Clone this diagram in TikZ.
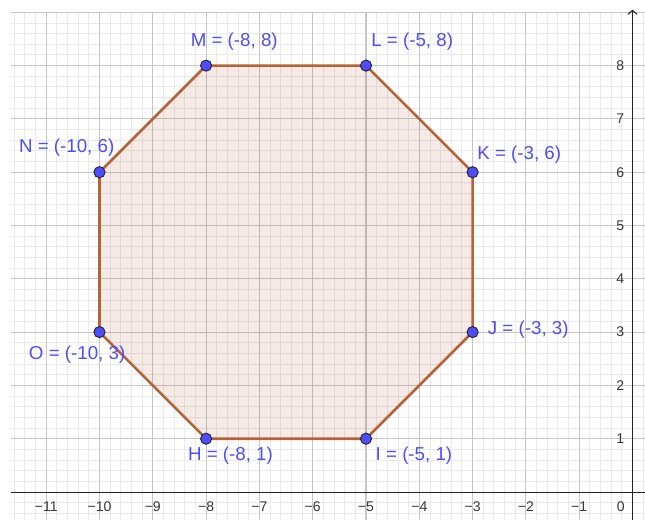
\documentclass[tikz,border=0pt]{standalone}
\usepackage{fontspec}
\setmainfont{Liberation Sans}
\usetikzlibrary{arrows.meta}
\definecolor{ptblue}{RGB}{77,77,255}
\definecolor{polyedge}{RGB}{182,98,54}
\definecolor{polyfill}{RGB}{153,51,0}
\definecolor{gridmaj}{RGB}{198,198,198}
\definecolor{gridmin}{RGB}{234,234,234}
\definecolor{axiscol}{RGB}{37,37,37}
\definecolor{ticklab}{RGB}{55,55,55}
\tikzset{
  minorgrid/.style={draw=gridmin, line width=0.5pt},
  majorgrid/.style={draw=gridmaj, line width=0.55pt},
  axisline/.style={draw=axiscol, line width=0.55pt},
  polyside/.style={draw=polyedge, line width=1.4pt, line join=round},
  polyarea/.style={fill=polyfill, fill opacity=0.1},
  ptdot/.style={circle, fill=ptblue, draw=black!85, line width=0.5pt, minimum size=0.21cm, inner sep=0pt},
  ptlabel/.style={anchor=base west, inner sep=0pt, text=ptblue, font=\fontsize{10}{12}\selectfont},
  xticklab/.style={anchor=north, inner sep=0pt, text=ticklab, font=\fontsize{7.5}{9}\selectfont},
  yticklab/.style={anchor=east, inner sep=0pt, text=ticklab, font=\fontsize{7.5}{9}\selectfont},
}
\begin{document}
\begin{tikzpicture}
\useasboundingbox (-11.867,-0.5066) rectangle (0.2345,9.231);
\clip (-11.867,-0.5066) rectangle (0.2345,9.231);
% grid
\draw[minorgrid] (-11.66,-0.52) grid[step=0.2] (0.24,9.001);
\draw[majorgrid] (-11.66,-0.52) grid[step=1] (0.24,9.001);
% axes
\coordinate (xa0) at (-11.66,0);
\coordinate (xa1) at (0.24,0);
\coordinate (ya0) at (0,-0.52);
\coordinate (ya1) at (0,9.05);
\draw[axisline] (xa0) -- (xa1);
\draw[axisline, -{Straight Barb[length=0.075cm,width=0.17cm]}] (ya0) -- (ya1);
% tick labels
\foreach \x [evaluate=\x as \ax using int(-\x)] in {-11,...,-1}
  \node[xticklab] (tx\ax) at (\x,-0.17) {−\ax};
\node[xticklab, anchor=north east] (tx0) at (-0.14,-0.17) {0};
\foreach \y in {1,...,8}
  \node[yticklab] (ty\y) at (-0.15,\y) {\y};
% vertices
\coordinate (H) at (-8,1);
\coordinate (I) at (-5,1);
\coordinate (J) at (-3,3);
\coordinate (K) at (-3,6);
\coordinate (L) at (-5,8);
\coordinate (M) at (-8,8);
\coordinate (N) at (-10,6);
\coordinate (O) at (-10,3);
\fill[polyarea] (H) -- (I) -- (J) -- (K) -- (L) -- (M) -- (N) -- (O) -- cycle;
\draw[polyside] (H) -- (I) -- (J) -- (K) -- (L) -- (M) -- (N) -- (O) -- cycle;
\foreach \p in {H,I,J,K,L,M,N,O}
  \node[ptdot] (d\p) at (\p) {};
% labels
\node[ptlabel] (lM) at (-8.295,8.355) {M = (-8, 8)};
\node[ptlabel] (lL) at (-4.907,8.355) {L = (-5, 8)};
\node[ptlabel] (lK) at (-2.918,6.242) {K = (-3, 6)};
\node[ptlabel] (lJ) at (-2.72,2.959) {J = (-3, 3)};
\node[ptlabel] (lH) at (-8.346,0.600) {H = (-8, 1)};
\node[ptlabel] (lI) at (-4.825,0.600) {I = (-5, 1)};
\node[ptlabel] (lN) at (-11.516,6.373) {N = (-10, 6)};
\node[ptlabel] (lO) at (-11.33,2.477) {O = (-10, 3)};
\end{tikzpicture}
\end{document}
